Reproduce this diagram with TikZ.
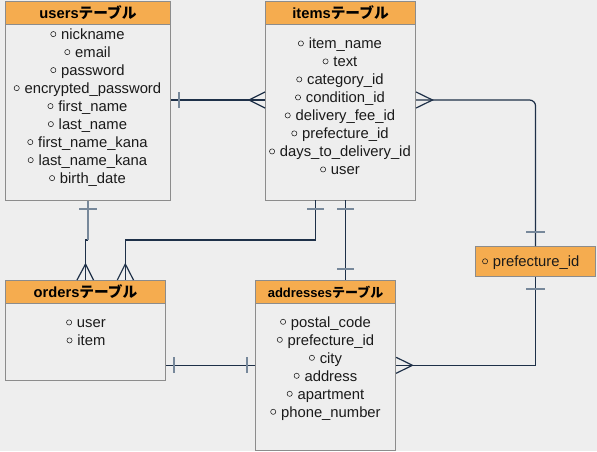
\documentclass[tikz,border=0pt]{standalone}
\usepackage{fontspec}
\setmainfont{Liberation Sans}
\newfontfamily\jpfont{Noto Sans CJK JP}
\usetikzlibrary{calc}
\definecolor{bg}{HTML}{EEEEEE}
\definecolor{hdr}{HTML}{F5AC4F}
\definecolor{frame}{HTML}{8C8C8C}
\definecolor{link}{HTML}{1E3048}
\definecolor{tickc}{HTML}{77889A}
\definecolor{ink}{HTML}{1A1A1A}
% small hollow marker in front of every column name
\newcommand\colmark{\raisebox{0.18em}{\tikz\draw[ink,line width=0.55pt] (0,0) circle (2.6pt);}\hspace{5pt}}
\newcommand\fld[1]{\colmark #1}
\begin{document}
\begin{tikzpicture}[x=1pt,y=-1pt,
  tablebox/.style={draw=frame,line width=1.1pt,fill=bg,anchor=north west,inner sep=0pt},
  headbox/.style={draw=frame,line width=1.1pt,fill=hdr,anchor=north west,inner sep=0pt},
  headtext/.style={font=\fontsize{14.7}{16}\selectfont\bfseries,text=black,inner sep=0pt},
  rowtext/.style={font=\fontsize{14.8}{16}\selectfont,text=ink,inner sep=0pt,anchor=mid},
  link/.style={draw=link,line width=1.2pt},
  tickmark/.style={draw=tickc,line width=2pt}]
\fill[bg] (0,0) rectangle (597,451);
\useasboundingbox (0,0) rectangle (597,451);

% ---------- users table ----------
\node[tablebox,minimum width=165pt,minimum height=199pt] (users) at (5,1) {};
\node[headbox,minimum width=165pt,minimum height=22.5pt] (usersh) at (5,1) {};
\node[headtext] at (usersh.center) {users{\jpfont\bfseries テーブル}};
\foreach \t [count=\i from 0] in {nickname,email,password,encrypted\_password,first\_name,last\_name,first\_name\_kana,last\_name\_kana,birth\_date}
  \node[rowtext] (u\i) at (87.5,37+18*\i) {\fld{\t}};

% ---------- items table ----------
\node[tablebox,minimum width=150pt,minimum height=199pt] (items) at (265,1) {};
\node[headbox,minimum width=150pt,minimum height=22.5pt] (itemsh) at (265,1) {};
\node[headtext] at (itemsh.center) {items{\jpfont\bfseries テーブル}};
\foreach \t [count=\i from 0] in {item\_name,text,category\_id,condition\_id,delivery\_fee\_id,prefecture\_id,days\_to\_delivery\_id,user}
  \node[rowtext] (it\i) at (340,46.3+18*\i) {\fld{\t}};

% ---------- orders table ----------
\node[tablebox,minimum width=160pt,minimum height=100pt] (orders) at (5,280) {};
\node[headbox,minimum width=160pt,minimum height=23pt] (ordersh) at (5,280) {};
\node[headtext] at (ordersh.center) {orders{\jpfont\bfseries テーブル}};
\node[rowtext] (o0) at (86,325.3) {\fld{user}};
\node[rowtext] (o1) at (86,343.3) {\fld{item}};

% ---------- addresses table ----------
\node[tablebox,minimum width=140pt,minimum height=170pt] (addresses) at (255,280) {};
\node[headbox,minimum width=140pt,minimum height=23pt] (addressesh) at (255,280) {};
\node[headtext,font=\fontsize{13}{15}\selectfont\bfseries] at (addressesh.center) {addresses{\jpfont\bfseries テーブル}};
\foreach \t [count=\i from 0] in {postal\_code,prefecture\_id,city,address,apartment,phone\_number}
  \node[rowtext] (a\i) at (325.5,324.7+18*\i) {\fld{\t}};

% ---------- prefecture box ----------
\node[headbox,minimum width=120pt,minimum height=29.5pt] (pref) at (475,246) {};
\node[rowtext,anchor=mid west] (p0) at (482,264.2) {\fld{prefecture\_id}};

% ---------- relations ----------
% users -- items (one to many)
\draw[link] (users.east |- 0,100) -- (items.west |- 0,100);
\draw[link] (items.west |- 0,92) -- (249,100) -- (items.west |- 0,108);
\draw[tickmark] (179,92) -- (179,108);

% items -- prefecture (many to one)
\draw[link,rounded corners=6pt] (items.east |- 0,100) -- (pref.north |- 0,100) -- (pref.north);
\draw[link] (items.east |- 0,92) -- (432.5,100) -- (items.east |- 0,108);
\draw[tickmark] (526,232) -- (545,232);

% prefecture -- addresses (one to many)
\draw[link] (pref.south) -- (pref.south |- 0,365.3) -- (addresses.east |- 0,365.3);
\draw[link] (addresses.east |- 0,357.3) -- (412.5,365.3) -- (addresses.east |- 0,373.3);
\draw[tickmark] (526,289) -- (545,289);

% users -- orders (one to many)
\draw[link] (users.south |- 0,240) -- (orders.north |- 0,240) -- (orders.north);
\draw[tickmark] (users.south) -- (users.south |- 0,240);
\draw[link] (77,280) -- (orders.north |- 0,264) -- (93.5,280);
\draw[tickmark] (79,209) -- (96.5,209);

% items -- orders (one to many)
\coordinate (io) at (315.3,200);
\coordinate (oi) at (125.3,280);
\draw[link] (io) -- (io |- 0,240) -- (oi |- 0,240) -- (oi);
\draw[link] (117.3,280) -- (125.3,264) -- (133.5,280);
\draw[tickmark] (307,209) -- (324,209);

% items -- addresses (one to one)
\coordinate (ia) at (345.3,200);
\draw[link] (ia) -- (ia |- addresses.north);
\draw[tickmark] (337,209) -- (353.5,209);
\draw[tickmark] (337,269) -- (353.5,269);

% orders -- addresses (one to one)
\draw[link] (orders.east |- 0,365.3) -- (addresses.west |- 0,365.3);
\draw[tickmark] (174,357) -- (174,373);
\draw[tickmark] (246.7,357) -- (246.7,373);
\end{tikzpicture}
\end{document}
